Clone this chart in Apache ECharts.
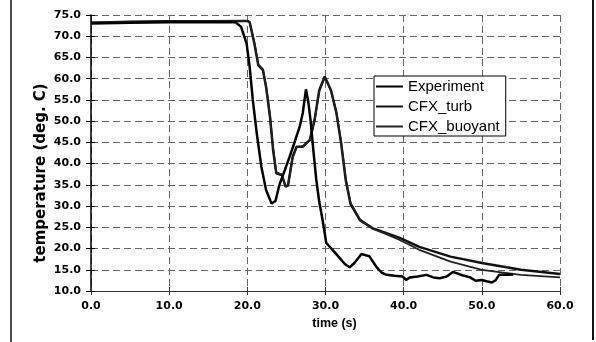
<!DOCTYPE html>
<html>
<head>
<meta charset="utf-8">
<script src="https://cdn.jsdelivr.net/npm/echarts@6/dist/echarts.min.js"></script>
<style>
html,body{margin:0;padding:0;background:#fff;}
#c{width:596px;height:342px;}
</style>
</head>
<body>
<div id="c"></div>
<script>
// ---- data ----
var seriesNames = ['Experiment', 'CFX_turb', 'CFX_buoyant'];
var yTicks = [10, 15, 20, 25, 30, 35, 40, 45, 50, 55, 60, 65, 70, 75];
var xTicks = [0, 10, 20, 30, 40, 50, 60];

var expTime = [0,5,10,15,18.5,19.2,19.9,20.3,20.7,21.2,21.8,22.4,23.1,23.6,24.1,24.8,25.4,26.0,26.7,27.1,27.5,27.8,28.1,28.4,28.8,29.2,29.6,30.1,30.9,31.8,32.5,33.1,33.7,34.6,35.6,36.5,37.2,37.8,38.8,39.9,40.3,40.8,41.8,42.9,43.8,44.6,45.5,46.3,47.5,48.5,49.2,50.0,50.6,51.3,51.8,52.2,53.4,54.0];
var expTemp = [73.0,73.2,73.3,73.3,73.3,72.2,68.3,62.8,55.0,47.2,39.2,33.8,30.6,31.2,35.0,38.5,41.6,44.8,48.7,52.0,57.5,54.5,50.0,44.0,36.5,31.0,27.0,21.3,19.7,17.8,16.3,15.6,16.6,18.7,18.2,15.7,14.3,13.8,13.6,13.4,12.6,13.2,13.4,13.8,13.2,13.0,13.4,14.5,13.7,13.2,12.4,12.6,12.3,12.0,12.6,13.8,13.8,13.9];

var turbTime = [0,5,10,15,19.5,20.0,20.3,20.9,21.4,22.0,22.4,22.9,23.3,23.7,24.4,24.9,25.2,25.8,26.3,27.1,28.0,28.6,29.2,29.9,30.7,31.4,32.0,32.6,33.2,34.4,36.0,38.0,39.5,42.0,46.0,50.0,55.0,60.0];
var turbTemp = [73.2,73.4,73.5,73.5,73.6,73.6,73.3,68.3,63.2,62.0,58.0,51.0,43.2,37.7,37.3,34.6,34.8,41.6,44.0,44.0,45.6,50.3,57.3,60.5,57.3,51.9,44.8,36.0,30.5,26.7,24.8,23.5,22.5,20.4,18.1,16.6,15.0,14.0];

var buoyTime = [0,5,10,15,19.5,20.0,20.3,20.9,21.4,22.0,22.4,22.9,23.3,23.7,24.4,24.9,25.2,25.8,26.3,27.1,28.0,28.6,29.2,29.9,30.7,31.4,32.0,32.6,33.2,34.4,36.0,38.0,39.5,42.0,46.0,50.0,55.0,60.0];
var buoyTemp = [73.2,73.4,73.5,73.5,73.6,73.6,73.3,68.5,63.4,62.2,58.3,51.3,43.5,38.0,37.4,34.7,34.9,41.4,43.8,44.1,45.5,50.0,57.0,60.3,57.2,52.0,45.0,36.3,30.8,26.9,24.7,23.2,22.0,19.7,16.9,15.0,13.8,13.2];

function pairs(t, v) { return t.map(function (x, i) { return [x, v[i]]; }); }

var chart = echarts.init(document.getElementById('c'), null, {renderer: 'canvas'});
var font = 'Liberation Sans, Arial, sans-serif';
var tickFont = 'DejaVu Sans, sans-serif';
var gridStyle = {color: '#666', width: 1, type: [7, 4]};

chart.setOption({
  animation: false,
  backgroundColor: '#fff',
  grid: {left: 91, right: 36, top: 15, bottom: 51},
  legend: {
    orient: 'vertical', left: 374, top: 76,
    data: seriesNames,
    itemWidth: 27, itemHeight: 14, itemGap: 5,
    selectedMode: false,
    itemStyle: {opacity: 0},
    backgroundColor: '#fff', borderColor: '#000', borderWidth: 1,
    padding: [3, 6, 2, 1],
    textStyle: {fontFamily: font, fontSize: 15, color: '#000'}
  },
  xAxis: [{
    type: 'value', min: 0, max: 60, interval: 10,
    name: 'time (s)', nameLocation: 'middle', nameGap: 22,
    nameTextStyle: {fontFamily: font, fontSize: 12.5, fontWeight: 'bold', color: '#000', padding: [0, 0, 0, 18]},
    axisLine: {show: true, lineStyle: {color: '#333', width: 1}},
    axisTick: {show: true, length: 4, lineStyle: {color: '#333'}},
    axisLabel: {fontFamily: tickFont, fontSize: 11, fontWeight: 'bold', color: '#000', margin: 10,
      formatter: function (v) { return v.toFixed(1); }},
    splitLine: {show: true, lineStyle: gridStyle}
  }, {
    type: 'value', min: 0, max: 60, interval: 10, position: 'bottom',
    axisLine: {show: false}, axisLabel: {show: false}, splitLine: {show: false},
    axisTick: {show: true, inside: true, length: 4, lineStyle: {color: '#333'}}
  }],
  yAxis: [{
    type: 'value', min: 10, max: 75, interval: 5,
    axisLine: {show: true, lineStyle: {color: '#000', width: 1.5}},
    axisTick: {show: true, length: 5, lineStyle: {color: '#000'}},
    axisLabel: {fontFamily: tickFont, fontSize: 11, fontWeight: 'bold', color: '#000', margin: 10,
      formatter: function (v) { return v.toFixed(1); }},
    splitLine: {show: true, lineStyle: gridStyle}
  }, {
    type: 'value', min: 10, max: 75, interval: 5, position: 'left',
    axisLine: {show: false}, axisLabel: {show: false}, splitLine: {show: false},
    axisTick: {show: true, inside: true, length: 4, lineStyle: {color: '#000'}}
  }],
  graphic: [
    {type: 'text', x: 41, y: 173, rotation: Math.PI / 2,
      style: {text: 'temperature (deg. C)', font: 'bold 15px ' + tickFont, fill: '#000',
        align: 'center', verticalAlign: 'middle'}},
    {type: 'line', shape: {x1: 11, y1: 0, x2: 11, y2: 342}, style: {stroke: '#111', lineWidth: 1.5}},
    {type: 'line', shape: {x1: 593, y1: 0, x2: 593, y2: 340}, style: {stroke: '#111', lineWidth: 2}}
  ],
  series: [
    {name: seriesNames[0], type: 'line', data: pairs(expTime, expTemp), symbol: 'none',
      lineStyle: {color: '#000', width: 2.5}, itemStyle: {color: '#000'}, z: 4},
    {name: seriesNames[1], type: 'line', data: pairs(turbTime, turbTemp), symbol: 'none',
      lineStyle: {color: '#111', width: 2.5}, itemStyle: {color: '#111'}, z: 3},
    {name: seriesNames[2], type: 'line', data: pairs(buoyTime, buoyTemp), symbol: 'none',
      lineStyle: {color: '#222', width: 1.8}, itemStyle: {color: '#222'}, z: 3}
  ]
});
</script>
</body>
</html>
